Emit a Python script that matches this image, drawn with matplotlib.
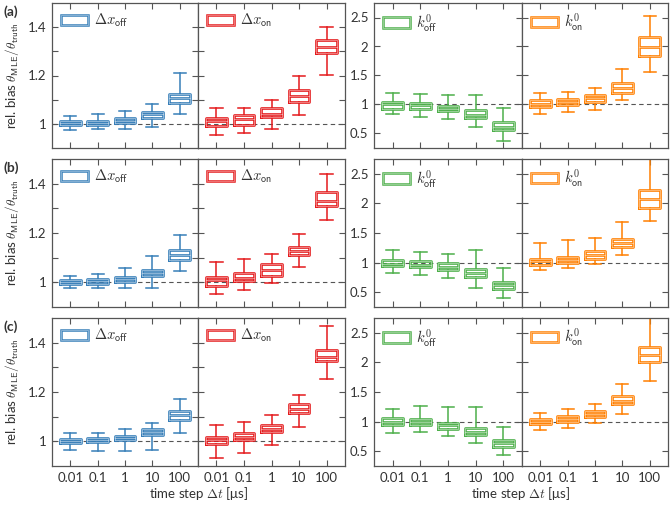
import numpy as np
import matplotlib
matplotlib.use("Agg")
import matplotlib.pyplot as plt
from matplotlib.patches import Patch

plt.rcParams["font.family"] = ["Lato", "DejaVu Sans"]
plt.rcParams["font.size"] = 9
plt.rcParams["mathtext.fontset"] = "cm"

dt = [0.01, 0.1, 1, 10, 100]
dt_labels = ["0.01", "0.1", "1", "10", "100"]
params = [r"$\Delta x_\mathsf{off}$", r"$\Delta x_\mathsf{on}$",
          r"$k^0_\mathsf{off}$", r"$k^0_\mathsf{on}$"]
colors = ["#377eb8", "#e41a1c", "#4daf4a", "#ff7f00"]
row_labels = ["(a)", "(b)", "(c)"]

# each entry: whisker low, q1, median, q3, whisker high (per time step)
dxoff_a = [[0.975, 0.996, 1.004, 1.011, 1.031],
           [0.980, 0.995, 1.004, 1.013, 1.041],
           [0.980, 1.004, 1.011, 1.024, 1.054],
           [0.988, 1.026, 1.039, 1.050, 1.083],
           [1.040, 1.086, 1.106, 1.125, 1.210]]
dxon_a = [[0.952, 0.990, 1.012, 1.026, 1.064],
          [0.962, 0.997, 1.020, 1.035, 1.067],
          [0.978, 1.029, 1.042, 1.064, 1.100],
          [1.035, 1.092, 1.115, 1.139, 1.197],
          [1.204, 1.292, 1.317, 1.348, 1.400]]
koff_a = [[0.840, 0.925, 1.000, 1.044, 1.197],
          [0.790, 0.920, 0.983, 1.027, 1.175],
          [0.746, 0.886, 0.925, 0.977, 1.158],
          [0.610, 0.763, 0.824, 0.898, 1.158],
          [0.366, 0.564, 0.620, 0.700, 0.942]]
kon_a = [[0.830, 0.954, 1.017, 1.073, 1.190],
         [0.864, 0.983, 1.044, 1.090, 1.220],
         [0.909, 1.050, 1.112, 1.170, 1.276],
         [1.085, 1.203, 1.288, 1.373, 1.620],
         [1.560, 1.830, 1.988, 2.169, 2.519]]

dxoff_b = [[0.977, 0.993, 1.001, 1.008, 1.026],
           [0.977, 0.993, 1.004, 1.014, 1.035],
           [0.978, 1.003, 1.012, 1.022, 1.057],
           [0.978, 1.025, 1.038, 1.050, 1.106],
           [1.044, 1.091, 1.110, 1.132, 1.191]]
dxon_b = [[0.951, 0.986, 1.011, 1.022, 1.082],
          [0.967, 1.004, 1.018, 1.038, 1.096],
          [0.996, 1.027, 1.048, 1.074, 1.116],
          [1.063, 1.109, 1.127, 1.143, 1.195],
          [1.253, 1.309, 1.330, 1.365, 1.441]]
koff_b = [[0.818, 0.938, 0.983, 1.040, 1.205],
          [0.790, 0.920, 0.966, 1.023, 1.176],
          [0.733, 0.881, 0.926, 0.989, 1.142],
          [0.568, 0.756, 0.818, 0.892, 1.210],
          [0.398, 0.557, 0.614, 0.676, 0.909]]
kon_b = [[0.880, 0.960, 1.023, 1.068, 1.330],
         [0.915, 0.994, 1.051, 1.097, 1.375],
         [0.977, 1.063, 1.125, 1.188, 1.415],
         [1.125, 1.267, 1.335, 1.398, 1.693],
         [1.710, 1.920, 2.068, 2.220, 2.850]]

dxoff_c = [[0.965, 0.992, 1.001, 1.009, 1.034],
           [0.959, 0.997, 1.004, 1.012, 1.034],
           [0.961, 1.004, 1.014, 1.023, 1.049],
           [0.963, 1.024, 1.039, 1.050, 1.073],
           [1.033, 1.085, 1.108, 1.125, 1.172]]
dxon_c = [[0.934, 0.991, 1.005, 1.019, 1.068],
          [0.953, 1.004, 1.018, 1.033, 1.079],
          [0.985, 1.037, 1.050, 1.065, 1.106],
          [1.057, 1.114, 1.133, 1.151, 1.186],
          [1.251, 1.324, 1.343, 1.369, 1.466]]
koff_c = [[0.808, 0.938, 0.994, 1.062, 1.220],
          [0.825, 0.938, 0.989, 1.045, 1.266],
          [0.763, 0.881, 0.938, 0.983, 1.249],
          [0.644, 0.774, 0.830, 0.898, 1.243],
          [0.429, 0.565, 0.633, 0.689, 0.910]]
kon_c = [[0.864, 0.960, 1.000, 1.045, 1.147],
         [0.898, 1.000, 1.045, 1.090, 1.215],
         [0.972, 1.079, 1.130, 1.181, 1.294],
         [1.130, 1.300, 1.345, 1.429, 1.627],
         [1.678, 2.006, 2.119, 2.266, 2.900]]

rows = [[dxoff_a, dxon_a, koff_a, kon_a],
        [dxoff_b, dxon_b, koff_b, kon_b],
        [dxoff_c, dxon_c, koff_c, kon_c]]

W, H = 670, 508
fig = plt.figure(figsize=(W / 100, H / 100), dpi=100)

col_px = [(52, 198), (198, 345), (374, 522), (522, 668)]
row_px = [(3, 148), (159, 307), (318, 466)]

text_c = "#333333"
spine_c = "#555555"
pos = np.log10(dt)

for i, panels in enumerate(rows):
    for j, data in enumerate(panels):
        x0, x1 = col_px[j]
        y0, y1 = row_px[i]
        ax = fig.add_axes([x0 / W, 1 - y1 / H, (x1 - x0) / W, (y1 - y0) / H])
        c = colors[j]
        stats = [dict(whislo=s[0], q1=s[1], med=s[2], q3=s[3], whishi=s[4], fliers=[])
                 for s in data]
        ax.axhline(1, color="#555555", lw=0.8, ls=(0, (4, 3)), zorder=1)
        bp = ax.bxp(stats, positions=pos, widths=0.75, capwidths=0.45,
                    showfliers=False, manage_ticks=False,
                    boxprops=dict(color=c, lw=1.9),
                    medianprops=dict(color=c, lw=1.9),
                    whiskerprops=dict(color=c, lw=1.1),
                    capprops=dict(color=c, lw=1.1))
        # lighter core on box and median lines
        for ln in bp["boxes"] + bp["medians"]:
            ax.plot(ln.get_xdata(), ln.get_ydata(), color="white", lw=0.55,
                    alpha=0.55, zorder=ln.get_zorder() + 0.1)

        ax.set_xlim(-2.67, 2.67)
        ax.set_xticks(pos)
        if j < 2:
            ax.set_ylim(0.9, 1.5)
            ax.set_yticks([1, 1.1, 1.2, 1.3, 1.4])
            ax.set_yticklabels(["1", "", "1.2", "", "1.4"])
        else:
            ax.set_ylim(0.25, 2.75)
            ax.set_yticks([0.5, 1, 1.5, 2, 2.5])
            ax.set_yticklabels(["0.5", "1", "1.5", "2", "2.5"])

        ax.tick_params(direction="in", top=True, right=True, length=4,
                       width=0.8, color=spine_c, labelcolor=text_c,
                       labelsize=9.5, pad=4)
        if i == 2:
            ax.set_xticklabels(dt_labels)
        else:
            ax.tick_params(labelbottom=False)
        if j in (1, 3):
            ax.tick_params(labelleft=False)
        for sp in ax.spines.values():
            sp.set_color(spine_c)
            sp.set_linewidth(0.9)

        if j == 0:
            ax.set_ylabel(r"rel. bias $\theta_\mathsf{MLE}/\theta_\mathsf{truth}$",
                          color=text_c, fontsize=9.5, labelpad=5)

        handle = (Patch(facecolor="none", edgecolor=c, lw=1.8),
                  Patch(facecolor="none", edgecolor="white", lw=0.5, alpha=0.55))
        ax.legend([handle], [params[j]], loc="upper left", frameon=False,
                  fontsize=10.5, handlelength=1.9, handleheight=0.7,
                  handletextpad=0.4, borderaxespad=0.3, borderpad=0.3,
                  labelcolor=text_c)

    fig.text(3 / W, 1 - (row_px[i][0] + 9) / H, row_labels[i],
             fontsize=10, fontweight="bold", color=text_c, va="center")

for xc in [(52 + 345) / 2, (374 + 668) / 2]:
    fig.text(xc / W, 1 - 494 / H, r"time step $\Delta t$ [μs]",
             ha="center", va="center", fontsize=9.5, color=text_c)

fig.savefig("out.png", dpi=100)
